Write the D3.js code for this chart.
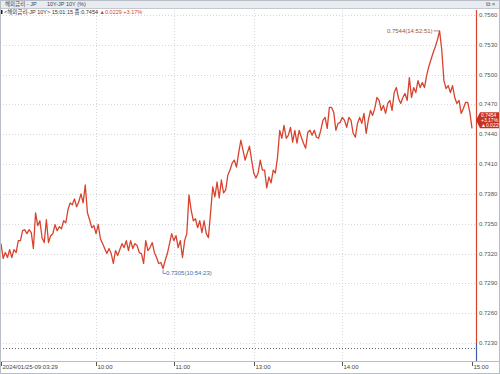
<!DOCTYPE html>
<html>
<head>
<meta charset="utf-8">
<script src="https://cdn.jsdelivr.net/npm/d3@7"></script>
<style>
body { margin: 0; background: #fff; }
text { font-family: "Liberation Sans", "Noto Sans CJK KR", sans-serif; }
</style>
</head>
<body>
<script>
// tick-by-tick yield, JP 10Y, 2024/01/25
const values = [
  0.7330, 0.7315, 0.7321, 0.7316, 0.7324, 0.7316, 0.7324, 0.7321, 0.7333, 0.7333,
  0.7343, 0.7344, 0.7340, 0.7344, 0.7341, 0.7325, 0.7361, 0.7348, 0.7353, 0.7336,
  0.7331, 0.7354, 0.7331, 0.7338, 0.7340, 0.7349, 0.7343, 0.7347, 0.7345, 0.7353,
  0.7351, 0.7364, 0.7371, 0.7369, 0.7375, 0.7367, 0.7372, 0.7380, 0.7371, 0.7389,
  0.7361, 0.7354, 0.7346, 0.7348, 0.7340, 0.7349, 0.7335, 0.7330, 0.7325, 0.7320,
  0.7325, 0.7320, 0.7310, 0.7323, 0.7318, 0.7324, 0.7330,
  0.7326, 0.7333, 0.7323, 0.7333, 0.7325, 0.7330, 0.7328, 0.7321, 0.7320, 0.7310,
  0.7333, 0.7323, 0.7326, 0.7331, 0.7321, 0.7316, 0.7310, 0.7311, 0.7305, 0.7313,
  0.7320, 0.7330, 0.7340, 0.7333, 0.7338, 0.7326, 0.7333, 0.7316, 0.7333, 0.7340,
  0.7379, 0.7364, 0.7353, 0.7355, 0.7346, 0.7353, 0.7341, 0.7353, 0.7340, 0.7336,
  0.7361, 0.7387, 0.7377, 0.7392, 0.7376, 0.7394, 0.7381,
  0.7384, 0.7399, 0.7404, 0.7411, 0.7414, 0.7407, 0.7421, 0.7434, 0.7424, 0.7414,
  0.7421, 0.7428, 0.7414, 0.7401, 0.7396, 0.7401, 0.7414, 0.7404, 0.7404, 0.7386,
  0.7397, 0.7391, 0.7404, 0.7401, 0.7417, 0.7444, 0.7436, 0.7449, 0.7436, 0.7439,
  0.7447, 0.7432, 0.7444, 0.7431, 0.7444, 0.7437, 0.7431, 0.7426, 0.7442, 0.7444,
  0.7439, 0.7444, 0.7437, 0.7436, 0.7444, 0.7454, 0.7457, 0.7446, 0.7467, 0.7467,
  0.7462, 0.7444, 0.7451, 0.7452, 0.7457, 0.7454, 0.7447, 0.7457, 0.7454, 0.7441,
  0.7437, 0.7451, 0.7457, 0.7451, 0.7461, 0.7441, 0.7454, 0.7464, 0.7459, 0.7466,
  0.7477, 0.7474, 0.7464, 0.7469, 0.7461, 0.7471, 0.7474, 0.7464, 0.7482, 0.7487,
  0.7476, 0.7471, 0.7477, 0.7481, 0.7474, 0.7497, 0.7477, 0.7487, 0.7482, 0.7494,
  0.7487, 0.7492, 0.7487, 0.7499, 0.7508, 0.7515, 0.7522, 0.7528, 0.7535, 0.7544,
  0.7525, 0.7494, 0.7486, 0.7489, 0.7482, 0.7489, 0.7477, 0.7471, 0.7474, 0.7461,
  0.7466, 0.7472, 0.7472, 0.7462, 0.7446
];
const yTicks = [0.7230, 0.7260, 0.7290, 0.7320, 0.7350, 0.7380, 0.7410, 0.7440, 0.7470, 0.7500, 0.7530, 0.7560];
const timeLabels = ["2024/01/25-09:03:29", "10:00", "11:00", "13:00", "14:00", "15:00"];
const timeIndex = [0, 44, 80, 117, 158, 218];
const hiTime = "14:52:51";
const loTime = "10:54:23";
const prevClose = 0.7225;
const lastValue = 0.7454;
const change = 0.0229;
const changePct = 3.17;

const width = 500, height = 374;
const plotTop = 10, plotBottom = 361, axisX = 476;
const red = "#d8432e";

const svg = d3.select("body").append("svg")
  .attr("width", width)
  .attr("height", height);

const x = d3.scaleLinear().domain([0, values.length - 1]).range([1, 472]);
const y = d3.scaleLinear().domain([0.7230, 0.7560]).range([343, 15]);

// grid
svg.append("g").selectAll("line")
  .data(yTicks)
  .join("line")
  .attr("x1", 0).attr("x2", axisX)
  .attr("y1", d => Math.round(y(d)) + 0.5).attr("y2", d => Math.round(y(d)) + 0.5)
  .attr("stroke", "#d4d8de")
  .attr("stroke-dasharray", "1,2");

svg.append("g").selectAll("line")
  .data(timeIndex.slice(1, -1))
  .join("line")
  .attr("x1", d => Math.round(x(d)) + 0.5).attr("x2", d => Math.round(x(d)) + 0.5)
  .attr("y1", plotTop).attr("y2", plotBottom)
  .attr("stroke", "#d4d8de")
  .attr("stroke-dasharray", "1,2");

// previous close
svg.append("line")
  .attr("x1", 0).attr("x2", axisX)
  .attr("y1", Math.round(y(prevClose)) + 0.5).attr("y2", Math.round(y(prevClose)) + 0.5)
  .attr("stroke", "#666")
  .attr("stroke-dasharray", "1,2");

// price line
svg.append("path")
  .datum(values)
  .attr("fill", "none")
  .attr("stroke", red)
  .attr("stroke-width", 1.3)
  .attr("stroke-linejoin", "round")
  .attr("d", d3.line().x((d, i) => x(i)).y(d => y(d)));

// high / low marks
const hiI = d3.maxIndex(values), loI = d3.minIndex(values);
const hx = x(hiI), hy = y(values[hiI]);
svg.append("line")
  .attr("x1", hx - 6).attr("x2", hx).attr("y1", hy).attr("y2", hy)
  .attr("stroke", "#a0523d").attr("stroke-width", 0.7);
svg.append("text")
  .attr("x", hx - 7).attr("y", hy + 2)
  .attr("text-anchor", "end")
  .attr("font-size", 6)
  .attr("fill", "#a0523d")
  .text(d3.format(".4f")(values[hiI]) + "(" + hiTime + ")");

const lx = x(loI), ly = y(values[loI]);
svg.append("path")
  .attr("d", `M${lx},${ly + 1}V${ly + 5}H${lx + 3}`)
  .attr("fill", "none")
  .attr("stroke", "#3c6fa8").attr("stroke-width", 0.7);
svg.append("text")
  .attr("x", lx + 3).attr("y", ly + 7)
  .attr("font-size", 6)
  .attr("fill", "#3c6fa8")
  .text(d3.format(".4f")(values[loI]) + "(" + loTime + ")");

// right axis
svg.append("line")
  .attr("x1", axisX + 0.5).attr("x2", axisX + 0.5)
  .attr("y1", plotTop).attr("y2", y(0.7230))
  .attr("stroke", red).attr("stroke-width", 1.2);
svg.append("line")
  .attr("x1", axisX + 0.5).attr("x2", axisX + 0.5)
  .attr("y1", y(0.7230)).attr("y2", plotBottom)
  .attr("stroke", "#3b5fa8").attr("stroke-width", 1.2);

svg.append("g").selectAll("text")
  .data(yTicks)
  .join("text")
  .attr("x", axisX + 3)
  .attr("y", d => y(d) + 2)
  .attr("font-size", 6)
  .attr("fill", "#555")
  .text(d => d3.format(".4f")(d));

// last value flag
const ly2 = y(lastValue);
svg.append("path")
  .attr("d", `M${axisX},${ly2}L${axisX + 4},${ly2 - 8}H${width}V${ly2 + 8}H${axisX + 4}Z`)
  .attr("fill", "#c8301f");
svg.append("g").selectAll("text")
  .data([d3.format(".4f")(lastValue), "+" + changePct.toFixed(2) + "%", "\u25b2" + d3.format(".4f")(change)])
  .join("text")
  .attr("x", axisX + 5)
  .attr("y", (d, i) => ly2 - 3 + i * 5)
  .attr("font-size", 5)
  .attr("fill", "#fff")
  .text(d => d);

// bottom axis band
svg.append("line")
  .attr("x1", 0).attr("x2", width)
  .attr("y1", plotBottom + 0.5).attr("y2", plotBottom + 0.5)
  .attr("stroke", "#b9bec6");
const tg = svg.append("g").selectAll("g")
  .data(timeIndex)
  .join("g")
  .attr("transform", d => `translate(${Math.round(x(d)) + 0.5},0)`);
tg.append("line")
  .attr("y1", plotBottom + 1).attr("y2", plotBottom + 5)
  .attr("stroke", "#555");
tg.append("text")
  .attr("x", 1).attr("y", plotBottom + 8)
  .attr("font-size", 6)
  .attr("fill", "#444")
  .text((d, i) => timeLabels[i]);

// header
svg.append("rect")
  .attr("x", 0).attr("y", 0).attr("width", width).attr("height", 8)
  .attr("fill", "#e8ecf1");
svg.append("line")
  .attr("x1", 0).attr("x2", width).attr("y1", 8.5).attr("y2", 8.5)
  .attr("stroke", "#c3c9d1");
svg.append("text").attr("x", 5).attr("y", 6).attr("font-size", 5.5).attr("fill", "#444")
  .attr("font-family", "Noto Sans CJK KR").text("해외금리 - JP");
svg.append("text").attr("x", 47).attr("y", 6).attr("font-size", 5.5).attr("fill", "#444")
  .attr("font-family", "Noto Sans CJK KR").text("10Y-JP 10Y (%)");
svg.append("text").attr("x", 486).attr("y", 6).attr("font-size", 6).attr("fill", "#555").text("\u29c9 \u00d7");

svg.append("rect").attr("x", 1).attr("y", 10).attr("width", 1.5).attr("height", 4).attr("fill", "#222");
const hdr = svg.append("text").attr("x", 4).attr("y", 14).attr("font-size", 5.5)
  .attr("font-family", "Noto Sans CJK KR");
hdr.append("tspan").attr("fill", "#333").text("<해외금리-JP 10Y> 15:01:15 종:" + d3.format(".4f")(lastValue) + " ");
hdr.append("tspan").attr("fill", red).text("\u25b2" + d3.format(".4f")(change) + "  +" + changePct.toFixed(2) + "%");

// frame
svg.append("rect")
  .attr("x", 0.5).attr("y", 0.5).attr("width", width - 1).attr("height", height - 1)
  .attr("fill", "none").attr("stroke", "#b9bec6");
</script>
</body>
</html>
